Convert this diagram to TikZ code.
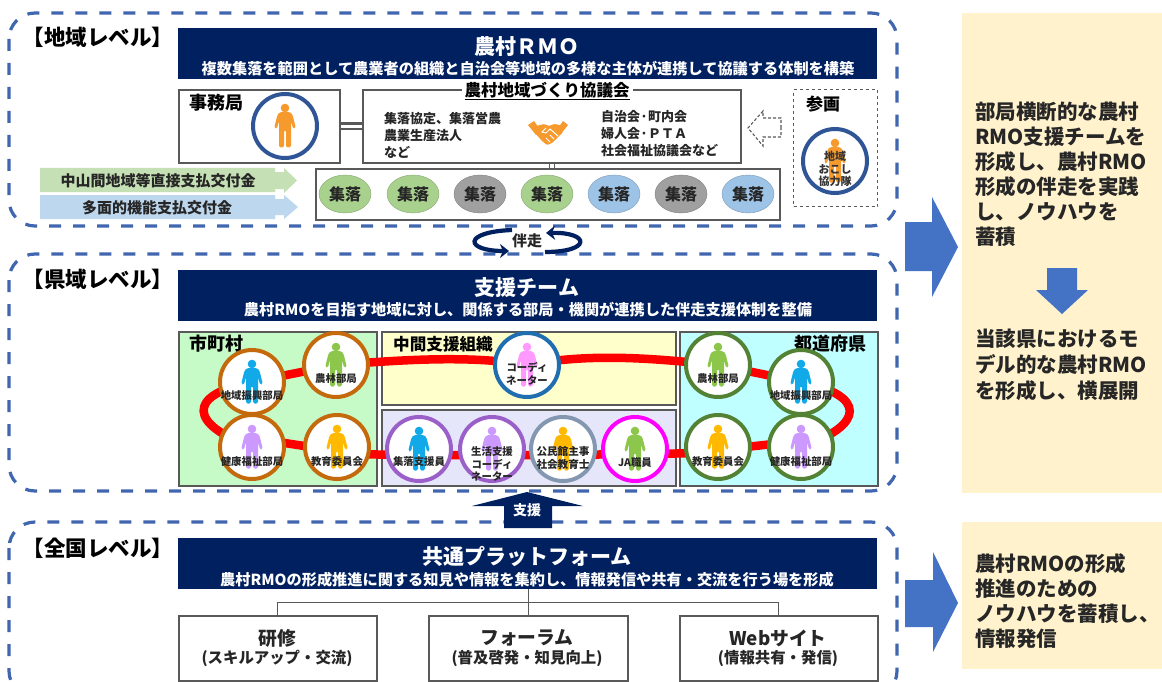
\documentclass[tikz,border=0pt]{standalone}
\usepackage{fontspec}
\usetikzlibrary{arrows.meta,shapes.geometric,calc}
\setmainfont{Noto Sans CJK JP}
\newcommand\fs[1]{\fontsize{#1pt}{#1pt}\selectfont}
\definecolor{navy}{HTML}{002060}
\definecolor{dashblue}{HTML}{3F66AE}
\definecolor{ringblue}{HTML}{2F5597}
\definecolor{arrowblue}{HTML}{4472C4}
\definecolor{edge}{HTML}{595959}
\definecolor{cream}{HTML}{FFF2CC}
\definecolor{tx}{HTML}{262626}
\definecolor{pB}{HTML}{11A9E8}
\definecolor{pG}{HTML}{8CC64A}
\definecolor{pV}{HTML}{CC99FF}
\definecolor{pO}{HTML}{FFB900}
\definecolor{pP}{HTML}{FF99FF}
\definecolor{pOr}{HTML}{F79A2E}
\definecolor{ringbrown}{HTML}{C46A0C}
\definecolor{ringgreen}{HTML}{548235}
\definecolor{ringcoord}{HTML}{1F6FB0}
\definecolor{ringpurple}{HTML}{9A5FC8}
\definecolor{ringgray}{HTML}{8497B0}
\definecolor{ringmag}{HTML}{FF00FF}
\definecolor{vG}{HTML}{A9D18E}
\definecolor{vK}{HTML}{A0A0A0}
\definecolor{vB}{HTML}{9DC3E6}
\definecolor{bandG}{HTML}{C5E0B4}
\definecolor{bandB}{HTML}{BDD7EE}
\definecolor{pnlG}{HTML}{C6FAC6}
\definecolor{pnlY}{HTML}{FFFFCC}
\definecolor{pnlL}{HTML}{E6E6FA}
\definecolor{pnlC}{HTML}{BFFFFF}
\pgfdeclarelayer{panel}
\pgfdeclarelayer{redl}
\pgfsetlayers{panel,redl,main}
\tikzset{
  level/.style={draw=dashblue,line width=3.2,rounded corners=26,dash pattern=on 12pt off 12pt},
  bar/.style={fill=navy,draw=none,anchor=north west,inner sep=0},
  boxw/.style={draw=edge,line width=1.6,fill=white,anchor=north west,inner sep=0},
  panelbox/.style={draw=edge,line width=1.8,anchor=north west,inner sep=0},
  ring/.style={circle,draw=#1,line width=4,fill=white,minimum size=64,inner sep=0},
  lbl/.style={inner sep=0,text=tx,font=\fs{10.4}\bfseries,align=center},
  vill/.style={ellipse,draw=#1!80!black,line width=.4,minimum width=52,minimum height=38,inner sep=0,fill=#1,text=tx,font=\fs{16}\bfseries},
  redline/.style={draw=red,line width=8.5},
  hd/.style={inner sep=0,text=white,font=\fs{21}\bfseries},
  sub/.style={inner sep=0,text=white,font=\fs{15.2}\bfseries},
  lv/.style={inner sep=0,text=black,font=\fs{21.5}\bfseries},
  note/.style={inner sep=0,text=tx,anchor=west,align=left,font=\fontsize{13pt}{17pt}\selectfont\bfseries},
  side/.style={inner sep=0,text=tx,anchor=north west,align=left},
  fat/.style={fill=arrowblue,draw=none},
  boxtop/.style={inner sep=0,font=\fs{18.8}\bfseries,text=tx},
  boxsub/.style={inner sep=0,font=\fs{15.4}\bfseries,text=tx},
  pics/person/.style={code={
    \fill[#1] (0,-18) circle (4.3);
    \fill[#1,rounded corners=1.6] (-5,-14)--(5,-14)--(7.5,-11.5)--(10.8,2)--(8.2,3)--(6,-5)--(6,21.5)--(1,21.5)--(1,4)--(-1,4)--(-1,21.5)--(-6,21.5)--(-6,-5)--(-8.2,3)--(-10.8,2)--(-7.5,-11.5)--cycle;
  }}
}
\begin{document}
\begin{tikzpicture}[x=1pt,y=-1pt]
\useasboundingbox (0,0) rectangle (1162,682);
\begin{pgfonlayer}{panel}
\fill[white] (0,0) rectangle (1162,682);
\end{pgfonlayer}

% side panels
\node[fill=cream,anchor=north west,inner sep=0,minimum width=200,minimum height=480] (sideA) at (962,13) {};
\node[fill=cream,anchor=north west,inner sep=0,minimum width=200,minimum height=147] (sideB) at (962,522) {};

% levels
\draw[level] (9,13) rectangle (897,226);
\draw[level] (9,254) rectangle (897,491);
\draw[level] (9,522) rectangle (897,697);

% bars
\node[bar,minimum width=699,minimum height=51] (barA) at (178,28) {};
\node[bar,minimum width=699,minimum height=51] (barB) at (178,270) {};
\node[bar,minimum width=699,minimum height=51] (barC) at (178,538) {};
\node[hd] (tA) at (527,47) {農村ＲＭＯ};
\node[sub] (sA) at (528,69) {複数集落を範囲として農業者の組織と自治会等地域の多様な主体が連携して協議する体制を構築};
\node[hd] (tB) at (527,288) {支援チーム};
\node[sub] (sB) at (528,310) {農村RMOを目指す地域に対し、関係する部局・機関が連携した伴走支援体制を整備};
\node[hd] (tC) at (527,556) {共通プラットフォーム};
\node[sub] (sC) at (527,580) {農村RMOの形成推進に関する知見や情報を集約し、情報発信や共有・交流を行う場を形成};

\node[lv] (lA) at (98,37) {【地域レベル】};
\node[lv] (lB) at (98,279) {【県域レベル】};
\node[lv] (lC) at (98,548) {【全国レベル】};

% regional level
\node[boxw,minimum width=161,minimum height=73] (jim) at (178,89) {};
\node[boxw,minimum width=378,minimum height=73] (kyo) at (362,89) {};
\node[boxw,minimum width=464,minimum height=51] (vbox) at (315,168) {};
\node[draw=edge,line width=1.2,dashed,anchor=north west,inner sep=0,minimum width=84,minimum height=117] (san) at (793,89) {};
\draw[edge,line width=2.4] ([yshift=2.8]jim.east) -- ([yshift=2.8]jim.east-|kyo.west);
\draw[edge,line width=2.4] ([yshift=-2.8]jim.east) -- ([yshift=-2.8]jim.east-|kyo.west);
\draw[edge,line width=1.2] ([xshift=-2.4]kyo.south) -- ([xshift=-2.4]kyo.south|-vbox.north);
\draw[edge,line width=1.2] ([xshift=2.4]kyo.south) -- ([xshift=2.4]kyo.south|-vbox.north);

\node[inner sep=0,font=\fs{18}\bfseries,text=black] (tjim) at (216,103) {事務局};
\node[ring=ringblue] (cjim) at (285,126) {};
\pic at (cjim) {person=pOr};
\node[fill=white,inner sep=3,font=\fs{16.5}\bfseries,text=black] (tkyo) at (547,91) {\underline{農村地域づくり協議会}};
\node[note] (nL) at (384,135) {集落協定、集落営農\\農業生産法人\\など};
\node[note] (nR) at (601,134) {自治会·町内会\\婦人会·ＰＴＡ\\社会福祉協議会など};

% handshake
\begin{scope}[shift={(549,132)}]
  \fill[pOr] (-21,-7)--(-15,-11)--(-8,-1)--(-13,3)--cycle;
  \fill[pOr] (19,-7)--(14,-11)--(7,-1)--(11,3)--cycle;
  \fill[pOr,rounded corners=1] (-13,-6)--(-5,-8)--(0,-6)--(5,-8)--(11,-7)--(14,0)--(3,11)--(-2,13)--(-7,9)--(-14,1)--cycle;
  \draw[white,line width=1] (-3,-4)--(-7,0)--(-3,1)--(1,-3)--(9,4);
  \draw[white,line width=.8] (5,7)--(1,3) (1,10)--(-3,6);
\end{scope}

% dashed arrow
\draw[edge,line width=1.1,dash pattern=on 3 off 2] (781,128) -- (781,118) -- (763,118) -- (763,111) -- (748,128) -- (763,146) -- (763,137) -- (781,137) -- cycle;

\node[inner sep=0,font=\fs{17}\bfseries,text=black] (tsan) at (823,104) {参画};
\node[ring=ringblue] (csan) at (835,161) {};
\pic at (csan) {person=pOr};
\node[lbl,font=\fs{11}\bfseries,text=black!80] (lsan) at (835,169) {地域\\[1.6pt]おこし\\[1.6pt]協力隊};

% funding bands
\fill[bandG] (40,168) -- (275,168) -- (275,172) -- (284,172) -- (284,168) -- (297,180.5) -- (284,193) -- (284,189) -- (275,189) -- (275,192) -- (40,192) -- cycle;
\fill[bandB] (40,195) -- (275,195) -- (275,199) -- (284,199) -- (284,195) -- (298,207) -- (284,219) -- (284,215) -- (275,215) -- (275,219) -- (40,219) -- cycle;
\node[inner sep=0,font=\fs{15}\bfseries,text=tx] (f1) at (158,181) {中山間地域等直接支払交付金};
\node[inner sep=0,font=\fs{15}\bfseries,text=tx] (f2) at (157,208) {多面的機能支払交付金};

\node[vill=vG] (v1) at (345,194) {集落};
\node[vill=vG] (v2) at (413,194) {集落};
\node[vill=vK] (v3) at (480,194) {集落};
\node[vill=vG] (v4) at (547,194) {集落};
\node[vill=vB] (v5) at (614,194) {集落};
\node[vill=vK] (v6) at (681,194) {集落};
\node[vill=vB] (v7) at (748,194) {集落};

% accompany arrows
\coordinate (la) at (512,230);
\coordinate (lb) at (509,251);
\coordinate (ra) at (545,252);
\coordinate (rb) at (546,233);
\draw[navy,line width=4.2,-{Stealth[length=9,width=14]}] (la) .. controls (462,232) and (465,251) .. (lb);
\draw[navy,line width=4.2,-{Stealth[length=9,width=14]}] (ra) .. controls (592,252) and (590,232) .. (rb);
\node[inner sep=0,font=\fs{15}\bfseries,text=tx] (ban) at (527,241) {伴走};

% prefectural panels
\begin{pgfonlayer}{panel}
\node[panelbox,fill=pnlG,minimum width=198,minimum height=154] (pM) at (178,331) {};
\node[panelbox,fill=pnlY,minimum width=294,minimum height=73] (pY) at (381,331) {};
\node[panelbox,fill=pnlL,minimum width=294,minimum height=76] (pL) at (381,409) {};
\node[panelbox,fill=pnlC,minimum width=198,minimum height=154] (pC) at (679,331) {};
\end{pgfonlayer}
\node[inner sep=0,font=\fs{18}\bfseries,text=black] (tM) at (216,344) {市町村};
\node[inner sep=0,font=\fs{16.6}\bfseries,text=black] (tY) at (443,344) {中間支援組織};
\node[inner sep=0,font=\fs{18}\bfseries,text=black] (tC2) at (830,344) {都道府県};

\node[ring=ringbrown] (mN) at (336,365) {};
\node[ring=ringbrown] (mA) at (252,382) {};
\node[ring=ringbrown] (mH) at (252,447) {};
\node[ring=ringbrown] (mE) at (337,447) {};
\node[ring=ringcoord] (co) at (527,365) {};
\node[ring=ringpurple] (iS) at (419,449) {};
\node[ring=ringpurple] (iL) at (492,449) {};
\node[ring=ringgray] (iK) at (563,449) {};
\node[ring=ringmag] (iJ) at (635,449) {};
\node[ring=ringgreen] (fN) at (718,365) {};
\node[ring=ringgreen] (fA) at (801,382) {};
\node[ring=ringgreen] (fE) at (718,447) {};
\node[ring=ringgreen] (fH) at (801,447) {};

\pic at (mN) {person=pG};
\pic at (mA) {person=pB};
\pic at (mH) {person=pV};
\pic at (mE) {person=pO};
\pic at (co) {person=pP};
\pic at (iS) {person=pB};
\pic at (iL) {person=pV};
\pic at (iK) {person=pO};
\pic at (iJ) {person=pG};
\pic at (fN) {person=pG};
\pic at (fA) {person=pB};
\pic at (fE) {person=pO};
\pic at (fH) {person=pV};

\node[lbl] (lmN) at (336,379) {農林部局};
\node[lbl] (lmA) at (252,396) {地域振興部局};
\node[lbl] (lmH) at (252,462) {健康福祉部局};
\node[lbl] (lmE) at (337,462) {教育委員会};
\node[lbl] (lco) at (527,374) {コーディ\\[2pt]ネーター};
\node[lbl] (liS) at (419,462) {集落支援員};
\node[lbl] (liL) at (492,464) {生活支援\\[2.5pt]コーディ\\[2.5pt]ネーター};
\node[lbl,font=\fs{10.6}\bfseries] (liK) at (563,458) {公民館主事\\[2.5pt]社会教育士};
\node[lbl] (liJ) at (635,463) {JA職員};
\node[lbl] (lfN) at (718,379) {農林部局};
\node[lbl] (lfA) at (801,396) {地域振興部局};
\node[lbl] (lfE) at (718,462) {教育委員会};
\node[lbl] (lfH) at (801,462) {健康福祉部局};

\begin{pgfonlayer}{redl}
\draw[redline] (mN.center) .. controls (400,360) and (470,355) .. (co.center);
\draw[redline] (co.center) .. controls (590,353) and (650,358) .. (fN.center);
\draw[redline] (mN.center) -- (mA.center);
\draw[redline] (fN.center) -- (fA.center);
\draw[redline] (mA.center) .. controls (185,395) and (190,425) .. (mH.center);
\draw[redline] (fA.center) .. controls (866,395) and (866,425) .. (fH.center);
\draw[redline] ([yshift=9]mH.center) -- ([yshift=-4]mE.center);
\draw[redline] ([yshift=-7]mE.center) -- ([yshift=-6]iS.center) -- ([yshift=-6]iL.center) -- ([yshift=-6]iK.center) -- ([yshift=-5]iJ.center) -- ([yshift=-6]fE.center);
\draw[redline] ([yshift=-3]fE.center) -- ([yshift=6]fH.center);
\end{pgfonlayer}

% support arrow
\fill[navy] (504,528) -- (504,506) -- (472,506) -- (527,492) -- (583,506) -- (552,506) -- (552,528) -- cycle;
\node[inner sep=0,font=\fs{14}\bfseries,text=white] (shi) at (527,510) {支援};

% national level
\node[boxw,minimum width=198,minimum height=65] (b1) at (178,615) {};
\node[boxw,minimum width=199,minimum height=65] (b2) at (428,615) {};
\node[boxw,minimum width=198,minimum height=65] (b3) at (679,615) {};
\coordinate (bus) at (525,602);
\draw[edge,line width=1] (barC.south-|b2.north) -- (b2.north);
\draw[edge,line width=1] (b1.north) -- (b1.north|-bus) -- (b3.north|-bus) -- (b3.north);
\node[boxtop] (b1a) at (277,638) {研修};
\node[boxsub] (b1b) at (277,658) {(スキルアップ・交流)};
\node[boxtop] (b2a) at (527,638) {フォーラム};
\node[boxsub] (b2b) at (527,658) {(普及啓発・知見向上)};
\node[boxtop] (b3a) at (778,638) {Webサイト};
\node[boxsub] (b3b) at (778,658) {(情報共有・発信)};

% fat arrows
\fill[fat] (905,222) -- (932,222) -- (932,197) -- (958,247) -- (932,297) -- (932,271) -- (905,271) -- cycle;
\fill[fat] (905,580) -- (933,580) -- (933,552) -- (958,603) -- (933,652) -- (933,627) -- (905,627) -- cycle;
\fill[fat] (1047,268) -- (1077,268) -- (1077,290) -- (1088,290) -- (1062,314) -- (1036,290) -- (1047,290) -- cycle;

% side text
\node[side,font=\fontsize{20.5pt}{24.9pt}\selectfont\bfseries] (s1) at (975,102) {部局横断的な農村\\RMO支援チームを\\形成し、農村RMO\\形成の伴走を実践\\し、ノウハウを\\蓄積};
\node[side,font=\fontsize{20.5pt}{26pt}\selectfont\bfseries] (s2) at (975,329) {当該県におけるモ\\デル的な農村RMO\\を形成し、横展開};
\node[side,font=\fontsize{20.5pt}{25.3pt}\selectfont\bfseries] (s3) at (975,553) {農村RMOの形成\\推進のための\\ノウハウを蓄積し、\\情報発信};
\end{tikzpicture}
\end{document}
